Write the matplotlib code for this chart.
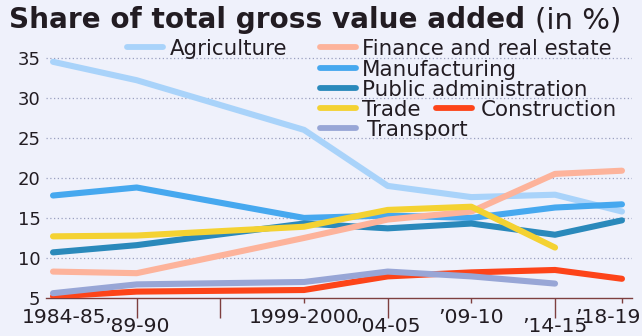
import matplotlib
matplotlib.use("Agg")
import matplotlib.pyplot as plt
from matplotlib.lines import Line2D

years = [1984, 1989, 1999, 2004, 2009, 2014, 2018]
agriculture = [34.5, 32.2, 26.0, 19.0, 17.6, 17.9, 15.8]
finance = [8.3, 8.1, 12.5, 14.8, 15.8, 20.5, 20.9]
manufacturing = [17.8, 18.8, 15.0, 15.3, 15.0, 16.3, 16.7]
public_admin = [10.7, 11.6, 14.3, 13.7, 14.3, 12.9, 14.7]
trade_years = [1984, 1989, 1999, 2004, 2009, 2014]
trade = [12.7, 12.8, 13.9, 16.0, 16.4, 11.3]
construction = [5.2, 5.8, 6.0, 7.7, 8.2, 8.5, 7.4]
transport_years = [1984, 1989, 1999, 2004, 2009, 2014]
transport = [5.6, 6.7, 7.0, 8.3, 7.7, 6.8]

yticks = [5, 10, 15, 20, 25, 30, 35]
row1_ticks = [1984, 1999, 2009, 2018]
row1_labels = ["1984-85", "1999-2000", "\u201909-10", "\u201918-19"]
row2_ticks = [1989, 2004, 2014]
row2_labels = ["\u201989-90", "\u201904-05", "\u201914-15"]
extra_ticks = [1994]

C_AGR = "#a9d3fa"
C_FIN = "#fdb39b"
C_MAN = "#46a8ef"
C_PUB = "#2a89bb"
C_TRA = "#f4d232"
C_CON = "#fd4419"
C_TRN = "#98a6d6"
BG = "#eff1fb"
TXT = "#221c22"
AX = "#7e3f3f"

plt.rcParams["font.family"] = ["DejaVu Sans"]

W, H = 642, 336
fig = plt.figure(figsize=(W / 100, H / 100), dpi=100, facecolor=BG)
ax = fig.add_axes([46 / W, (H - 298) / H, 586 / W, 245 / H], facecolor=BG)
renderer = fig.canvas.get_renderer()


def size_for(text, target_px, weight="normal"):
    t = fig.text(0, 0, text, fontsize=10, fontweight=weight)
    bb = t.get_window_extent(renderer)
    t.remove()
    return 10 * target_px / bb.width


ax.set_xlim(1983.58, 2018.6)
ax.set_ylim(5, 35.6)

for y in yticks[1:]:
    ax.axhline(y, color="#9aa0c0", lw=0.9, ls=(0, (1, 2)), zorder=1)

kw = dict(lw=4.4, solid_capstyle="round", solid_joinstyle="round")
ax.plot(years, agriculture, color=C_AGR, zorder=2, **kw)
ax.plot(years, manufacturing, color=C_MAN, zorder=3, **kw)
ax.plot(years, public_admin, color=C_PUB, zorder=4, **kw)
ax.plot(years, finance, color=C_FIN, zorder=5, **kw)
ax.plot(trade_years, trade, color=C_TRA, zorder=6, **kw)
ax.plot(years, construction, color=C_CON, zorder=7, **kw)
ax.plot(transport_years, transport, color=C_TRN, zorder=8, **kw)

for s in ["top", "right", "left"]:
    ax.spines[s].set_visible(False)
ax.spines["bottom"].set_color(AX)
ax.spines["bottom"].set_linewidth(1.0)
ax.spines["bottom"].set_zorder(1)

ax.set_yticks(yticks)
ax.set_yticklabels([str(v) for v in yticks], fontsize=13, color=TXT)
ax.tick_params(axis="y", length=0, pad=4)

xsize = size_for("1999-2000", 110)
# first and last row-1 labels are placed off-centre, so draw them as texts
ax.set_xticks(row1_ticks)
ax.set_xticklabels([""] + row1_labels[1:-1] + [""], fontsize=xsize, color=TXT)
ax.set_xticks(row2_ticks + extra_ticks, minor=True)
ax.set_xticklabels(row2_labels + [""], minor=True, fontsize=xsize, color=TXT)
ax.tick_params(axis="x", which="major", length=3.6, width=1, color=AX, pad=3.8)
ax.tick_params(axis="x", which="minor", length=14.5, width=1, color=AX, pad=-0.8)
ax.xaxis.get_major_ticks()[0].tick1line.set_visible(False)

px_per_year = 586 / (2018.6 - 1983.58)
xtr = ax.get_xaxis_transform()
yoff = -(5.0 + 5.3) / 245
ax.text(row1_ticks[0] + 11 / px_per_year, yoff, row1_labels[0], transform=xtr,
        fontsize=xsize, color=TXT, ha="center", va="top", clip_on=False)
ax.text(row1_ticks[-1] + 19 / px_per_year, yoff, row1_labels[-1], transform=xtr,
        fontsize=xsize, color=TXT, ha="right", va="top", clip_on=False)

# title
base_y = 1 - 28 / H
fig.text(9 / W, base_y, "Share of total gross value added",
         fontsize=size_for("Share of total gross value added", 515, "bold"),
         fontweight="bold", color=TXT, va="baseline", ha="left")
fig.text(535 / W, base_y, "(in %)", fontsize=size_for("(in %)", 86), color=TXT,
         va="baseline", ha="left")

# legend
entries = [
    ("Agriculture", C_AGR, 127, 47, 170),
    ("Finance and real estate", C_FIN, 320, 47, 362),
    ("Manufacturing", C_MAN, 320, 68, 362),
    ("Public administration", C_PUB, 320, 88, 362),
    ("Trade", C_TRA, 320, 108, 362),
    ("Construction", C_CON, 436, 108, 481),
    ("Transport", C_TRN, 320, 128, 367),
]
lsize = size_for("Finance and real estate", 250)
for name, col, x0, yc, xt in entries:
    fig.add_artist(Line2D([x0 / W, (x0 + 36) / W], [1 - yc / H, 1 - yc / H],
                          color=col, lw=4.2, solid_capstyle="round",
                          transform=fig.transFigure))
    fig.text(xt / W, 1 - yc / H, name, fontsize=lsize, color=TXT,
             va="center_baseline", ha="left")

fig.savefig("out.png", dpi=100, facecolor=BG)
